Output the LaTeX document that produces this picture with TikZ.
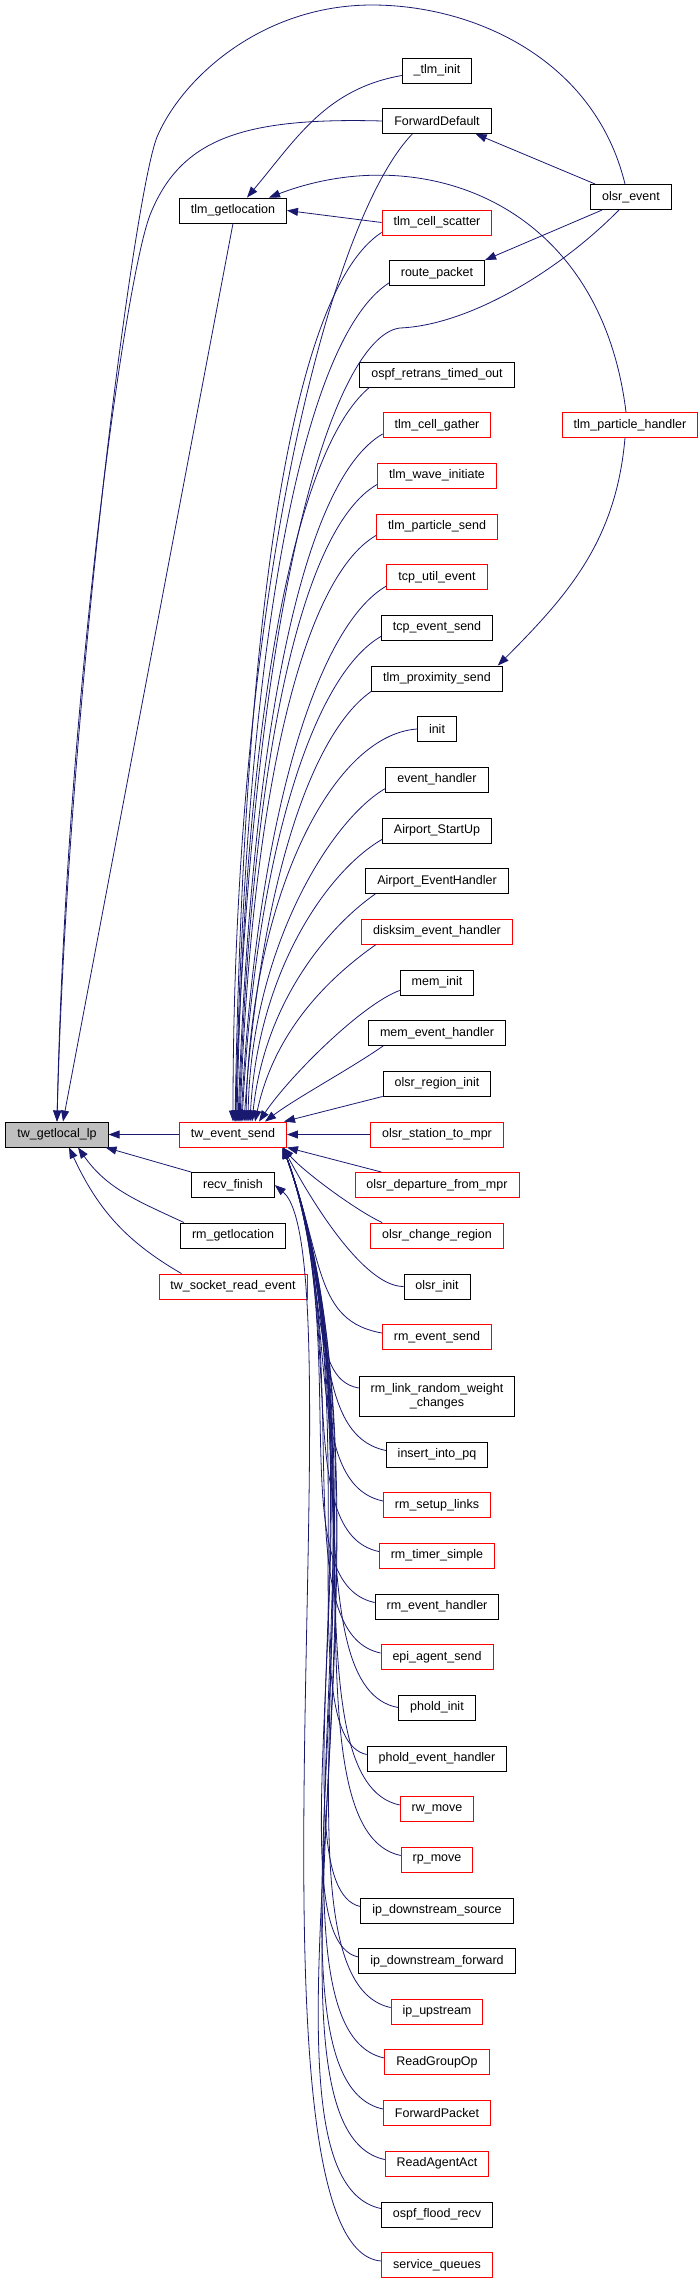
\documentclass[tikz,border=0pt]{standalone}
\usepackage{fontspec}
\setmainfont{Liberation Sans}
\usepackage{tikz}
\usetikzlibrary{arrows.meta}

\definecolor{edgeblue}{HTML}{191970}
\definecolor{focusgray}{HTML}{BFBFBF}

\begin{document}
\begin{tikzpicture}[
                x=1pt, y=1pt,
                font=\fontsize{12.5}{14}\selectfont,
                func/.style={rectangle, draw, fill=white, line width=0.9pt, align=center,
                        inner xsep=11.5pt, inner ysep=2pt, minimum height=25pt},
                truncated/.style={func, draw=red},
                focus/.style={func, fill=focusgray},
                callarrow/.style={-{Triangle[length=11pt, width=8pt]}, edgeblue, line width=0.8pt},
            ]
            \useasboundingbox (0,0) rectangle (699,-2284);

            % --- function and its direct callers -----------------------------
            \node[focus]     (tw_getlocal_lp)       at (57,-1134.5)  {tw\_getlocal\_lp};
            \node[func]      (tlm_getlocation)      at (233,-210.5)  {tlm\_getlocation};
            \node[truncated] (tw_event_send)        at (233,-1134.5) {tw\_event\_send};
            \node[func]      (recv_finish)          at (233,-1185)   {recv\_finish};
            \node[func]      (rm_getlocation)       at (233,-1235.5) {rm\_getlocation};
            \node[truncated] (tw_socket_read_event) at (233,-1286.5) {tw\_socket\_read\_event};

            % --- second level callers ----------------------------------------
            \node[func]      (tlm_init)                at (437,-70.5)  {\_tlm\_init};
            \node[func]      (ForwardDefault)          at (437,-121)   {ForwardDefault};
            \node[truncated] (tlm_cell_scatter)        at (437,-222.5) {tlm\_cell\_scatter};
            \node[func]      (route_packet)            at (437,-273)   {route\_packet};
            \node[func]      (ospf_retrans_timed_out)  at (437,-374.5) {ospf\_retrans\_timed\_out};
            \node[truncated] (tlm_cell_gather)         at (437,-425)   {tlm\_cell\_gather};
            \node[truncated] (tlm_wave_initiate)       at (437,-475.5) {tlm\_wave\_initiate};
            \node[truncated] (tlm_particle_send)       at (437,-526.5) {tlm\_particle\_send};
            \node[truncated] (tcp_util_event)          at (437,-577)   {tcp\_util\_event};
            \node[func]      (tcp_event_send)          at (437,-627.5) {tcp\_event\_send};
            \node[func]      (tlm_proximity_send)      at (437,-678.5) {tlm\_proximity\_send};
            \node[func]      (init)                    at (437,-729)   {init};
            \node[func]      (event_handler)           at (437,-779.5) {event\_handler};
            \node[func]      (Airport_StartUp)         at (437,-830.5) {Airport\_StartUp};
            \node[func]      (Airport_EventHandler)    at (437,-881)   {Airport\_EventHandler};
            \node[truncated] (disksim_event_handler)   at (437,-931.5) {disksim\_event\_handler};
            \node[func]      (mem_init)                at (437,-982.5) {mem\_init};
            \node[func]      (mem_event_handler)       at (437,-1033)  {mem\_event\_handler};
            \node[func]      (olsr_region_init)        at (437,-1083.5){olsr\_region\_init};
            \node[truncated] (olsr_station_to_mpr)     at (437,-1134.5){olsr\_station\_to\_mpr};
            \node[truncated] (olsr_departure_from_mpr) at (437,-1185)  {olsr\_departure\_from\_mpr};
            \node[truncated] (olsr_change_region)      at (437,-1235.5){olsr\_change\_region};
            \node[func]      (olsr_init)               at (437,-1286.5){olsr\_init};
            \node[truncated] (rm_event_send)           at (437,-1337)  {rm\_event\_send};
            \node[func, minimum height=40pt] (rm_link_random_weight_changes) at (437,-1396)
            {rm\_link\_random\_weight\\\_changes};
            \node[func]      (insert_into_pq)          at (437,-1454.5){insert\_into\_pq};
            \node[truncated] (rm_setup_links)          at (437,-1505)  {rm\_setup\_links};
            \node[truncated] (rm_timer_simple)         at (437,-1555.5){rm\_timer\_simple};
            \node[func]      (rm_event_handler)        at (437,-1606.5){rm\_event\_handler};
            \node[truncated] (epi_agent_send)          at (437,-1657)  {epi\_agent\_send};
            \node[func]      (phold_init)              at (437,-1707.5){phold\_init};
            \node[func]      (phold_event_handler)     at (437,-1758.5){phold\_event\_handler};
            \node[truncated] (rw_move)                 at (437,-1809)  {rw\_move};
            \node[truncated] (rp_move)                 at (437,-1859.5){rp\_move};
            \node[func]      (ip_downstream_source)    at (437,-1910.5){ip\_downstream\_source};
            \node[func]      (ip_downstream_forward)   at (437,-1961)  {ip\_downstream\_forward};
            \node[truncated] (ip_upstream)             at (437,-2011.5){ip\_upstream};
            \node[truncated] (ReadGroupOp)             at (437,-2062)  {ReadGroupOp};
            \node[truncated] (ForwardPacket)           at (437,-2113)  {ForwardPacket};
            \node[truncated] (ReadAgentAct)            at (437,-2163.5){ReadAgentAct};
            \node[func]      (ospf_flood_recv)         at (437,-2214.5){ospf\_flood\_recv};
            \node[truncated] (service_queues)          at (437,-2265)  {service\_queues};

            % --- third level callers -----------------------------------------
            \node[func]      (olsr_event)           at (631,-197) {olsr\_event};
            \node[truncated] (tlm_particle_handler) at (630,-425) {tlm\_particle\_handler};

            % --- calls into tw_getlocal_lp -----------------------------------
            \draw[callarrow] (tw_event_send.west) -- (tw_getlocal_lp.east);
            \draw[callarrow] (recv_finish.north west) -- ([xshift=-3]tw_getlocal_lp.south east);
            \draw[callarrow] ([xshift=4]rm_getlocation.north west) to[out=155, in=-55] ([xshift=21]tw_getlocal_lp.south);
            \draw[callarrow] ([xshift=23]tw_socket_read_event.north west) to[out=150, in=-65] ([xshift=12]tw_getlocal_lp.south);
            \draw[callarrow] (tlm_getlocation.south) -- ([xshift=6]tw_getlocal_lp.north);
            \draw[callarrow] (ForwardDefault.west) .. controls (240,-117) and (180,-140) .. (150,-215)
            .. controls (125,-280) and (66,-700) .. (tw_getlocal_lp.north);
            \draw[callarrow] ([xshift=-6]olsr_event.north) .. controls (595,-60) and (475,-5) .. (372,-5)
            .. controls (262,-5) and (182,-78) .. (157,-137)
            .. controls (134,-195) and (68,-700) .. (tw_getlocal_lp.north);

            % --- calls into tlm_getlocation, ForwardDefault, route_packet ----
            \draw[callarrow] ([yshift=-5]tlm_init.west) to[out=190, in=50] ([xshift=14]tlm_getlocation.north);
            \draw[callarrow] ([xshift=-4]tlm_particle_handler.north) .. controls (600,-200) and (420,-140) .. ([xshift=36]tlm_getlocation.north);
            \draw[callarrow] (tlm_cell_scatter.west) -- (tlm_getlocation.east);
            \draw[callarrow] ([xshift=5]olsr_event.north west) -- ([xshift=-16]ForwardDefault.south east);
            \draw[callarrow] ([xshift=12]olsr_event.south west) -- (route_packet.north east);
            \draw[callarrow] ([xshift=-5]tlm_particle_handler.south) to[out=-95, in=45] ([xshift=-5]tlm_proximity_send.north east);

            % --- calls into tw_event_send from above -------------------------
            \draw[callarrow] ([xshift=30]ForwardDefault.south west) .. controls +(226:120) and +(90:520) .. (tw_event_send.north);
            \draw[callarrow] ([xshift=-12]olsr_event.south) .. controls (560,-270) and (470,-325) .. (400,-328)
            .. controls (340,-335) and (255,-560) .. ([xshift=2]tw_event_send.north);
            \draw[callarrow] ([yshift=3]tlm_cell_scatter.south west) .. controls +(213:111) and +(89:490) .. ([xshift=2]tw_event_send.north);
            \draw[callarrow] ([yshift=3]route_packet.south west) .. controls +(213:107) and +(89:460) .. ([xshift=3]tw_event_send.north);
            \draw[callarrow] ([xshift=10]ospf_retrans_timed_out.south west) .. controls +(220:99) and +(89:400) .. ([xshift=4]tw_event_send.north);
            \draw[callarrow] ([yshift=4]tlm_cell_gather.south west) .. controls +(210:95) and +(88:380) .. ([xshift=5]tw_event_send.north);
            \draw[callarrow] ([yshift=4]tlm_wave_initiate.south west) .. controls +(210:91) and +(88:350) .. ([xshift=6]tw_event_send.north);
            \draw[callarrow] ([yshift=4]tlm_particle_send.south west) .. controls +(210:87) and +(88:320) .. ([xshift=7]tw_event_send.north);
            \draw[callarrow] ([yshift=4]tcp_util_event.south west) .. controls +(210:83) and +(87:295) .. ([xshift=8]tw_event_send.north);
            \draw[callarrow] ([yshift=4]tcp_event_send.south west) .. controls +(210:79) and +(87:267) .. ([xshift=9]tw_event_send.north);
            \draw[callarrow] (tlm_proximity_send.south west) .. controls +(215:74) and +(86:237) .. ([xshift=11]tw_event_send.north);
            \draw[callarrow] (init.west) .. controls +(184:87) and +(89:220) .. ([xshift=13]tw_event_send.north);
            \draw[callarrow] ([yshift=4]event_handler.south west) .. controls +(210:64) and +(89:172) .. ([xshift=15]tw_event_send.north);
            \draw[callarrow] ([yshift=4]Airport_StartUp.south west) .. controls +(210:63) and +(87:150) .. ([xshift=17]tw_event_send.north);
            \draw[callarrow] ([xshift=10]Airport_EventHandler.south west) .. controls +(215:58) and +(84:120) .. ([xshift=19]tw_event_send.north);
            \draw[callarrow] ([xshift=15]disksim_event_handler.south west) .. controls +(215:54) and +(78:95) .. ([xshift=22]tw_event_send.north);
            \draw[callarrow] ([yshift=5]mem_init.south west) .. controls +(200:40) and +(56:55) .. ([xshift=26]tw_event_send.north);
            \draw[callarrow] ([xshift=15]mem_event_handler.south west) .. controls +(215:40) and +(37:40) .. ([xshift=32]tw_event_send.north);
            \draw[callarrow] (olsr_region_init.south west) -- ([xshift=-3]tw_event_send.north east);

            % --- calls into tw_event_send from below -------------------------
            \draw[callarrow] (olsr_station_to_mpr.west) -- (tw_event_send.east);
            \draw[callarrow] ([xshift=27]olsr_departure_from_mpr.north west) -- (tw_event_send.south east);
            \draw[callarrow] ([xshift=12]olsr_change_region.north west) .. controls +(155:30) and +(-50:30) .. ([xshift=-4]tw_event_send.south east);
            \draw[callarrow] (olsr_init.west) .. controls +(180:40) and +(-62:60) .. ([xshift=-4]tw_event_send.south east);
            \draw[callarrow] ([yshift=4]rm_event_send.west) .. controls +(170:69) and +(-70:120) .. ([xshift=-4]tw_event_send.south east);
            \draw[callarrow] ([yshift=8]rm_link_random_weight_changes.west) .. controls +(170:54) and +(-70:137) .. ([xshift=-4]tw_event_send.south east);
            \draw[callarrow] ([yshift=4]insert_into_pq.west) .. controls +(168:80) and +(-70:157) .. ([xshift=-4]tw_event_send.south east);
            \draw[callarrow] ([yshift=4]rm_setup_links.west) .. controls +(168:85) and +(-70:173) .. ([xshift=-4]tw_event_send.south east);
            \draw[callarrow] ([yshift=4]rm_timer_simple.west) .. controls +(168:90) and +(-70:189) .. ([xshift=-4]tw_event_send.south east);
            \draw[callarrow] ([yshift=4]rm_event_handler.west) .. controls +(168:96) and +(-70:206) .. ([xshift=-4]tw_event_send.south east);
            \draw[callarrow] ([yshift=4]epi_agent_send.west) .. controls +(168:101) and +(-70:222) .. ([xshift=-4]tw_event_send.south east);
            \draw[callarrow] (phold_init.west) .. controls +(170:106) and +(-70:239) .. ([xshift=-4]tw_event_send.south east);
            \draw[callarrow] ([yshift=4]phold_event_handler.west) .. controls +(168:81) and +(-70:254) .. ([xshift=-4]tw_event_send.south east);
            \draw[callarrow] ([yshift=4]rw_move.west) .. controls +(168:116) and +(-70:271) .. ([xshift=-4]tw_event_send.south east);
            \draw[callarrow] ([yshift=4]rp_move.west) .. controls +(168:121) and +(-70:287) .. ([xshift=-4]tw_event_send.south east);
            \draw[callarrow] ([yshift=4]ip_downstream_source.west) .. controls +(168:91) and +(-70:303) .. ([xshift=-4]tw_event_send.south east);
            \draw[callarrow] ([yshift=4]ip_downstream_forward.west) .. controls +(168:96) and +(-70:319) .. ([xshift=-4]tw_event_send.south east);
            \draw[callarrow] ([yshift=4]ip_upstream.west) .. controls +(168:136) and +(-70:335) .. ([xshift=-4]tw_event_send.south east);
            \draw[callarrow] ([yshift=4]ReadGroupOp.west) .. controls +(168:141) and +(-70:352) .. ([xshift=-4]tw_event_send.south east);
            \draw[callarrow] ([yshift=4]ForwardPacket.west) .. controls +(168:146) and +(-70:368) .. ([xshift=-4]tw_event_send.south east);
            \draw[callarrow] ([yshift=4]ReadAgentAct.west) .. controls +(168:151) and +(-70:384) .. ([xshift=-4]tw_event_send.south east);
            \draw[callarrow] ([yshift=6]ospf_flood_recv.west) .. controls +(168:156) and +(-70:400) .. ([xshift=-4]tw_event_send.south east);

            % --- call into recv_finish ---------------------------------------
            \draw[callarrow] ([yshift=4]service_queues.west) .. controls +(176:150) and +(-40:110) .. (recv_finish.east);
        \end{tikzpicture}
\end{document}
